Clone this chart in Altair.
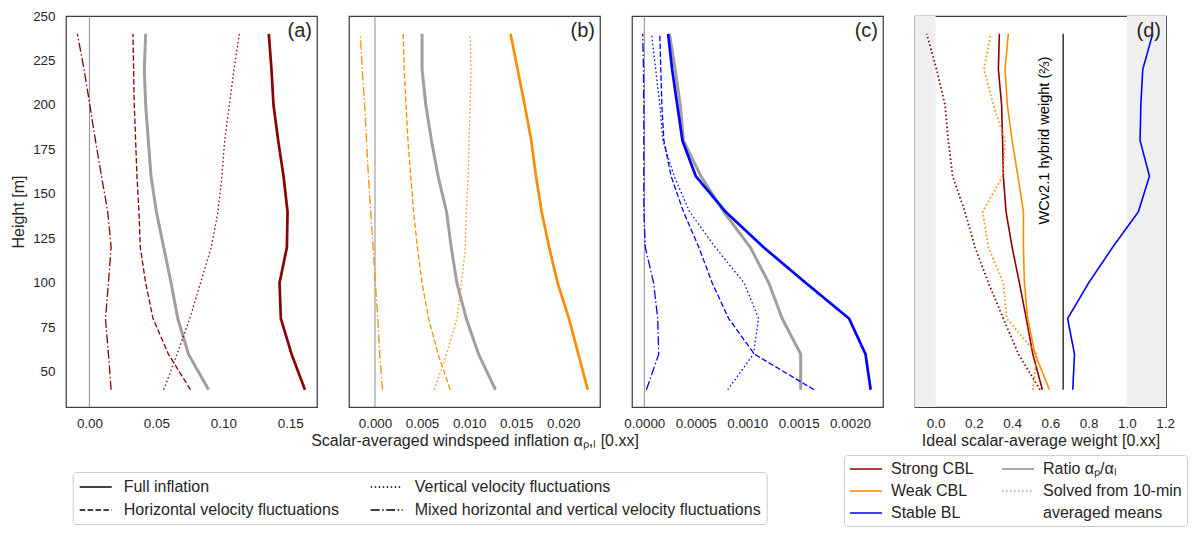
import altair as alt
import pandas as pd

FONT = "Liberation Sans"
TXT = "#262626"

heights = [40, 60, 80, 100, 120, 140, 160, 180, 200, 220, 240]

# ---- panel (a): strong CBL inflation ----
a_full = [0.161, 0.151, 0.143, 0.142, 0.1475, 0.148, 0.145, 0.141, 0.1375, 0.136, 0.134]
a_horiz = [0.0755, 0.059, 0.0475, 0.042, 0.038, 0.037, 0.0355, 0.0345, 0.0335, 0.033, 0.0325]
a_vert = [0.0555, 0.0655, 0.075, 0.083, 0.091, 0.096, 0.099, 0.101, 0.1045, 0.108, 0.112]
a_mixed = [0.0162, 0.0142, 0.012, 0.0142, 0.0162, 0.0137, 0.009, 0.0045, 0.0003, -0.004, -0.009]
a_ratio = [0.089, 0.074, 0.066, 0.061, 0.0555, 0.050, 0.046, 0.044, 0.042, 0.041, 0.042]

# ---- panel (b): weak CBL inflation ----
b_full = [0.0226, 0.0216, 0.0206, 0.0194, 0.0185, 0.0177, 0.0171, 0.0166, 0.0159, 0.01515, 0.0144]
b_horiz = [0.0080, 0.0067, 0.0057, 0.0050, 0.0045, 0.0041, 0.0038, 0.0035, 0.0033, 0.0031, 0.0030]
b_vert = [0.0063, 0.0076, 0.0087, 0.0092, 0.0096, 0.0097, 0.0099, 0.0100, 0.0101, 0.0102, 0.0101]
b_mixed = [0.0008, 0.0005, 0.0003, 0.00004, -0.0002, -0.00046, -0.0007, -0.0009, -0.0011, -0.00135, -0.00156]
b_ratio = [0.0128, 0.0110, 0.0097, 0.0087, 0.0081, 0.0076, 0.0067, 0.0060, 0.0054, 0.0050, 0.0050]

# ---- panel (c): stable BL inflation ----
c_full = [0.00220, 0.00215, 0.00199, 0.00157, 0.00116, 0.00079, 0.00050, 0.00037, 0.00032, 0.00027, 0.000231]
c_horiz = [0.00165, 0.00107, 0.00082, 0.00066, 0.00053, 0.00038, 0.00026, 0.00019, 0.00017, 0.00016, 0.00015]
c_vert = [0.00081, 0.00106, 0.00111, 0.00097, 0.00069, 0.00044, 0.00029, 0.00018, 0.00015, 0.00011, 0.00007]
c_mixed = [0.00002, 0.00014, 0.00013, 0.00009, 0.00001, -0.000005, -0.000005, -0.000005, -0.000005, -0.000008, -0.000016]
c_ratio = [0.00152, 0.00152, 0.00134, 0.00121, 0.00103, 0.00077, 0.00055, 0.00038, 0.00035, 0.00030, 0.000244]

# ---- panel (d): ideal scalar-average weight ----
d_strong = [0.558, 0.508, 0.474, 0.438, 0.400, 0.368, 0.354, 0.350, 0.345, 0.328, 0.333]
d_weak = [0.595, 0.520, 0.481, 0.464, 0.459, 0.459, 0.430, 0.400, 0.375, 0.363, 0.380]
d_stable = [0.717, 0.726, 0.690, 0.800, 0.925, 1.060, 1.118, 1.069, 1.073, 1.083, 1.135]
d_strong_10 = [0.546, 0.433, 0.354, 0.276, 0.206, 0.153, 0.089, 0.066, 0.049, 0.005, -0.047]
d_weak_10 = [0.508, 0.529, 0.372, 0.354, 0.276, 0.246, 0.351, 0.363, 0.302, 0.253, 0.288]

hybrid_weight = 2 / 3
hybrid_label = "WCv2.1 hybrid weight (⅔)"
hybrid_label_pos = [0.573, 180.0]
hybrid_span = [40, 240]
shade_lo = [-0.108, 0.0]
shade_hi = [1.0, 1.2045]

# legend entries (listed column by column)
components = ["Full inflation", "Horizontal velocity fluctuations",
              "Vertical velocity fluctuations",
              "Mixed horizontal and vertical velocity fluctuations"]
dash_range = [[1, 0], [5.5, 2.4], [1.5, 2.5], [9, 2.5, 1.5, 2.5]]

entries = ["Strong CBL", "Weak CBL", "Stable BL", "Ratio αₚ/αₗ",
           "Solved from 10-min", "\u00a0averaged means"]
entry_colors = ["#8b0000", "#ff8c00", "#0000ff", "#8c8c8c", "#9a9a9a", "rgba(255,255,255,0)"]
entry_dash = [[1, 0], [1, 0], [1, 0], [1, 0], [1.5, 2.5], [1, 0]]

PW, PH = 251, 391
Y_DOMAIN = [30.3, 250]
y_ticks = [50, 75, 100, 125, 150, 175, 200, 225, 250]

SWATCH = "M-2,0H2"  # 32 px long line swatch at symbolSize 256

legend1 = alt.Legend(
    orient="none", legendX=6.7, legendY=456, columns=2, title=None,
    symbolType=SWATCH, symbolSize=256, symbolOffset=8, symbolStrokeWidth=1.5,
    symbolStrokeColor="black", labelFontSize=16, labelFont=FONT,
    labelColor=TXT, labelOffset=19, labelLimit=600, padding=6,
    rowPadding=6, columnPadding=28, strokeColor="#cccccc",
    cornerRadius=3, fillColor="white")

legend2 = alt.Legend(
    orient="none", legendX=-71, legendY=439, columns=2, title=None,
    symbolType=SWATCH, symbolSize=256, symbolOffset=8, symbolStrokeWidth=1.6,
    labelFontSize=16, labelFont=FONT, labelColor=TXT, labelOffset=16,
    labelLimit=600, padding=5, rowPadding=5, columnPadding=24,
    strokeColor="#cccccc", cornerRadius=3, fillColor="white")


def long_df(series):
    rows = []
    for name, vals in series.items():
        for h, v in zip(heights, vals):
            rows.append({"component": name, "height": h, "value": v})
    return pd.DataFrame(rows)


def y_enc(first):
    if first:
        ax = alt.Axis(values=y_ticks, format="d", title="Height [m]",
                      labelPadding=11, titlePadding=6, labelFlush=False)
    else:
        ax = None
    return alt.Y("height:Q", scale=alt.Scale(domain=Y_DOMAIN, nice=False, zero=False), axis=ax)


def letter_layer(letter):
    return alt.Chart(pd.DataFrame({"t": [letter]})).mark_text(
        align="right", baseline="top", fontSize=20, font=FONT, color=TXT
    ).encode(x=alt.value(PW - 5), y=alt.value(5), text="t:N")


def inflation_panel(full, horiz, vert, mixed, ratio, color, xdomain, xticks,
                    xfmt, letter, xtitle, first):
    df = long_df({components[0]: full, components[1]: horiz,
                  components[2]: vert, components[3]: mixed})
    rdf = pd.DataFrame({"height": heights, "value": ratio})
    x = alt.X("value:Q", scale=alt.Scale(domain=xdomain, nice=False, zero=False),
              axis=alt.Axis(values=xticks, format=xfmt, title=xtitle,
                            labelPadding=9, titlePadding=3, labelFlush=False))
    y = y_enc(first)
    dash = alt.StrokeDash("component:N",
                          scale=alt.Scale(domain=components, range=dash_range),
                          legend=legend1 if first else None)
    zero = alt.Chart(pd.DataFrame({"value": [0.0]})).mark_rule(
        color="#707070", strokeWidth=0.8).encode(x=x)
    ratio_line = alt.Chart(rdf).mark_line(color="#a0a0a0", strokeWidth=3).encode(
        x=x, y=y, order="height:Q")
    base = alt.Chart(df)
    comp = base.transform_filter(alt.datum.component != components[0]).mark_line(
        color=color, strokeWidth=1.3).encode(x=x, y=y, strokeDash=dash, order="height:Q")
    full_line = base.transform_filter(alt.datum.component == components[0]).mark_line(
        color=color, strokeWidth=2.7).encode(x=x, y=y, strokeDash=dash, order="height:Q")
    return alt.layer(zero, ratio_line, comp, full_line, letter_layer(letter)).properties(
        width=PW, height=PH)


pa = inflation_panel(a_full, a_horiz, a_vert, a_mixed, a_ratio, "#8b0000",
                     [-0.0175, 0.170], [0, 0.05, 0.10, 0.15], ".2f", "(a)", None, True)
pb = inflation_panel(b_full, b_horiz, b_vert, b_mixed, b_ratio, "#ff8c00",
                     [-0.00276, 0.0239], [0, 0.005, 0.010, 0.015, 0.020], ".3f", "(b)",
                     "Scalar-averaged windspeed inflation αₚ,ₗ [0.xx]", False)
pc = inflation_panel(c_full, c_horiz, c_vert, c_mixed, c_ratio, "#0000ff",
                     [-0.00012, 0.00232], [0, 0.0005, 0.0010, 0.0015, 0.0020], ".4f", "(c)",
                     None, False)

# ---- panel (d) ----
solid_df = pd.DataFrame({
    "entry": ["Strong CBL"] * len(heights) + ["Weak CBL"] * len(heights) + ["Stable BL"] * len(heights),
    "height": heights * 3,
    "value": d_strong + d_weak + d_stable,
})
dotted_df = pd.DataFrame({
    "entry": ["Strong CBL"] * len(heights) + ["Weak CBL"] * len(heights),
    "height": heights * 2,
    "value": d_strong_10 + d_weak_10,
})
xd = alt.X("value:Q", scale=alt.Scale(domain=[-0.108, 1.2045], nice=False, zero=False),
           axis=alt.Axis(values=[0, 0.2, 0.4, 0.6, 0.8, 1.0, 1.2], format=".1f",
                         title="Ideal scalar-average weight [0.xx]",
                         labelPadding=9, titlePadding=3, labelFlush=False))
yd = y_enc(False)
col = alt.Color("entry:N", scale=alt.Scale(domain=entries, range=entry_colors), legend=legend2)
sd = alt.StrokeDash("entry:N", scale=alt.Scale(domain=entries, range=entry_dash), legend=legend2)

shade = alt.Chart(pd.DataFrame({"value": [shade_lo[0], shade_hi[0]],
                                "value2": [shade_lo[1], shade_hi[1]],
                                "height": [Y_DOMAIN[0], Y_DOMAIN[0]],
                                "height2": [Y_DOMAIN[1], Y_DOMAIN[1]]})).mark_rect(
    color="#efefef").encode(x=xd, x2="value2:Q", y=yd, y2="height2:Q")
solid = alt.Chart(solid_df).mark_line(strokeWidth=1.6).encode(
    x=xd, y=yd, color=col, strokeDash=sd, order="height:Q")
dotted = alt.Chart(dotted_df).mark_line(strokeWidth=1.8, strokeDash=[1.5, 2.5]).encode(
    x=xd, y=yd, color=col, order="height:Q")
hyb = alt.Chart(pd.DataFrame({"value": [hybrid_weight], "height": [hybrid_span[0]],
                              "height2": [hybrid_span[1]]})).mark_rule(
    color="black", strokeWidth=1.2).encode(x=xd, y=yd, y2="height2:Q")
hyb_txt = alt.Chart(pd.DataFrame({"value": [hybrid_label_pos[0]], "height": [hybrid_label_pos[1]],
                                  "t": [hybrid_label]})).mark_text(
    angle=270, fontSize=14.6, font=FONT, color="black", align="center", baseline="middle"
).encode(x=xd, y=yd, text="t:N")
pd_ = alt.layer(shade, solid, dotted, hyb, hyb_txt, letter_layer("(d)")).properties(
    width=PW, height=PH)

chart = alt.hconcat(pa, pb, pc, pd_, spacing=32, bounds="flush").resolve_scale(
    color="independent", strokeDash="independent"
).properties(
    padding={"left": 2, "top": 0, "right": 0, "bottom": 0}
).configure_view(
    stroke="#404040", strokeWidth=1.25
).configure_axis(
    labelFont=FONT, labelFontSize=13.4, labelColor=TXT, titleFont=FONT,
    titleFontSize=16, titleFontWeight="normal", titleColor=TXT,
    grid=False, ticks=False, domain=False
).configure_text(font=FONT)

chart.save("out.html", embed_options={"renderer": "svg", "actions": False})
